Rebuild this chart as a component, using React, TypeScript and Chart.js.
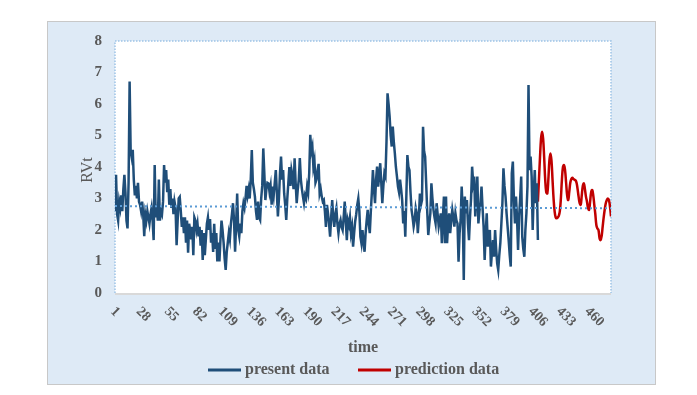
import { useEffect, useRef } from 'react';
import { Chart, registerables } from 'chart.js';

Chart.register(...registerables);

const FONT = '"Liberation Serif", "Times New Roman", serif';

// present data, time index 1..406
const presentData = [
  2.6, 3.75, 2.5, 2.3, 2.9, 2.7, 3.1, 2.6, 3.3, 3.75,
  3.2, 2.3, 2.05, 3.5, 6.71, 4.5, 4.3, 4.55, 3.6, 3.1,
  3.4, 3.0, 3.5, 2.9, 2.8, 2.6, 2.9, 2.5, 1.8, 2.5,
  2.3, 2.6, 2.4, 2.2, 2.5, 2.7, 2.3, 1.68, 4.06, 2.4,
  2.8, 2.3, 3.6, 2.3, 2.6, 2.5, 2.9, 4.06, 3.5, 3.9,
  3.2, 3.6, 2.8, 3.3, 2.7, 3.0, 2.5, 2.9, 2.7, 1.52,
  2.3, 3.0, 3.05, 2.6, 2.1, 2.4, 1.9, 2.4, 1.6, 2.3,
  1.28, 2.2, 2.0, 1.7, 2.1, 1.2, 2.4,
  2.3, 2.0, 2.2, 1.8, 2.1, 1.5, 2.0, 1.05, 1.9, 1.2,
  1.7, 2.2, 2.4, 2.0, 2.35, 1.6, 1.9, 1.3, 2.2, 1.4,
  1.9, 1.0, 1.6, 1.0, 1.7, 2.3, 2.0, 1.6, 1.1, 0.73,
  1.3, 1.6, 1.9, 1.7, 2.2, 2.5, 2.85, 2.3, 1.31, 2.2,
  3.16, 2.0, 1.8, 2.2, 1.9, 2.6, 2.85, 2.7, 3.0, 3.4,
  3.1, 3.3, 3.0, 3.6, 4.54, 3.5, 3.3, 3.06, 2.6, 2.32,
  2.9, 2.4, 2.32, 3.0, 3.4, 4.59, 3.8, 2.95, 3.3, 3.5,
  3.48, 3.2, 3.4, 2.8, 3.38, 3.1, 3.5, 3.9, 3.2, 2.43,
  3.0, 3.8, 4.33, 3.6, 3.9, 3.16, 2.8, 2.32, 3.0, 3.5,
  4.0, 3.4, 3.9, 3.7, 3.3, 4.28, 3.5, 2.85, 3.27, 3.6,
  4.28, 3.6, 3.3, 3.06, 2.85, 3.1, 3.0, 3.38, 3.2, 3.8,
  5.02, 4.5, 4.65, 4.0, 4.2, 3.5, 3.6, 3.9, 4.1, 3.16,
  3.3, 3.06, 2.9, 2.95, 2.6, 2.1, 2.8, 2.53, 2.2, 1.79,
  2.4, 2.95, 2.4, 2.1, 2.5, 2.69, 2.2, 1.9, 2.2, 2.32,
  2.1, 2.0, 2.4, 2.9, 2.3, 1.68, 2.3, 2.16, 2.4, 1.9,
  2.1, 1.47, 1.9, 2.27, 2.5, 2.8, 3.0, 2.6, 1.79, 1.58,
  2.0, 1.6, 1.31, 1.9, 2.3, 2.64, 2.2, 1.9, 2.6, 3.2,
  3.9, 3.3, 2.85, 3.6, 4.01, 3.38, 3.7, 4.12, 3.5, 2.85,
  3.4, 3.8, 3.7, 4.8, 6.34, 6.0, 5.6, 5.0, 4.65, 5.28,
  4.8, 4.43, 4.0, 3.7, 3.38, 3.2, 3.6, 3.3, 2.95, 2.21,
  2.6, 1.79, 3.06, 4.38, 4.0, 3.9, 3.2, 2.64, 2.4, 2.11,
  2.3, 2.7, 2.53, 1.9, 2.4, 3.16, 2.8, 2.95, 5.28, 4.5,
  4.33, 3.48, 2.6, 1.84, 2.2, 2.53, 3.48, 3.0, 2.64, 2.4,
  2.21, 2.85, 2.5, 2.11, 2.3, 2.53, 1.58, 2.4, 3.06, 1.58,
  3.06, 1.58, 2.2, 2.53, 1.9, 2.3, 2.64, 2.4, 2.11, 2.53,
  2.3, 2.21, 0.99, 1.9, 2.32, 3.38, 2.6, 0.41, 3.06, 2.53,
  2.95, 2.2, 1.68, 2.43, 3.0, 4.01, 3.5, 3.7, 2.43, 3.1,
  3.7, 2.21, 2.6, 2.85, 3.38, 2.7, 2.11, 1.05, 1.9, 2.53,
  1.47, 1.8, 2.0, 0.84, 1.3, 1.68, 1.15, 2.0, 1.4, 0.94,
  0.73, 1.2, 1.58, 2.2, 2.85, 3.96, 3.4, 3.06, 2.53, 2.1,
  1.68, 1.2, 0.84, 3.8, 4.17, 3.0, 2.21, 3.06, 2.4, 1.37,
  2.43, 3.0, 3.7, 1.79, 1.4, 1.15, 2.0, 2.53, 3.38, 6.6,
  3.9, 4.33, 3.7, 2.0, 3.2, 3.9, 2.85, 3.48, 1.68,
];

// prediction data, time index 406..476
const predictionStart = 406;
const predictionData = [
  2.9, 3.6, 4.3, 4.9, 5.12, 4.9, 4.3, 3.6, 3.2, 3.16,
  3.6, 4.2, 4.43, 4.2, 3.6, 3.0, 2.6, 2.4, 2.37, 2.4,
  2.45, 2.6, 3.0, 3.6, 4.0, 4.06, 3.9, 3.5, 3.1, 2.95,
  3.2, 3.5, 3.62, 3.66, 3.62, 3.6, 3.58, 3.5, 3.3, 3.05,
  2.85, 2.8, 3.1, 3.4, 3.48, 3.3, 3.06, 2.9, 2.7, 2.64,
  2.9, 3.2, 3.27, 3.1, 2.8, 2.5, 2.15, 2.05, 2.0, 1.75,
  1.68, 1.8, 2.1, 2.4, 2.65, 2.85, 2.95, 3.0, 2.95, 2.75,
  2.43,
];

// linear trend line (start / end)
const trendX = [1, 476];
const trendY = [2.76, 2.69];

const xTickLabels = [1, 28, 55, 82, 109, 136, 163, 190, 217, 244, 271, 298, 325, 352, 379, 406, 433, 460];
const yMin = 0;
const yMax = 8;

const seriesNames = ['present data', 'prediction data'];
const seriesColors = ['#1F4E79', '#C00000'];

export default function App() {
  const ref = useRef<HTMLCanvasElement>(null);

  useEffect(() => {
    document.body.style.margin = '0';
    const canvas = ref.current;
    if (!canvas) return;

    const present = presentData.map((y, i) => ({ x: i + 1, y }));
    const pred = predictionData.map((y, i) => ({ x: predictionStart + i, y }));
    const trend = trendX.map((x, i) => ({ x, y: trendY[i] }));

    const deco = {
      id: 'deco',
      beforeDraw(chart: any) {
        const { ctx, chartArea: a } = chart;
        ctx.save();
        ctx.fillStyle = '#ffffff';
        ctx.fillRect(0, 0, chart.width, chart.height);
        ctx.fillStyle = '#DEEAF6';
        ctx.fillRect(48, 22, 607, 362);
        ctx.strokeStyle = '#C8C8C8';
        ctx.lineWidth = 1;
        ctx.strokeRect(47.5, 21.5, 608, 363);
        ctx.fillStyle = '#ffffff';
        ctx.fillRect(a.left, a.top, a.right - a.left, a.bottom - a.top);
        // dotted plot border
        ctx.strokeStyle = '#9DC3E6';
        ctx.lineWidth = 1.5;
        ctx.setLineDash([1.5, 1.5]);
        ctx.beginPath();
        ctx.moveTo(a.left, a.bottom);
        ctx.lineTo(a.left, a.top);
        ctx.lineTo(a.right, a.top);
        ctx.lineTo(a.right, a.bottom);
        ctx.stroke();
        ctx.setLineDash([]);
        // x axis line
        ctx.strokeStyle = '#D9D9D9';
        ctx.lineWidth = 2;
        ctx.beginPath();
        ctx.moveTo(a.left, a.bottom + 1);
        ctx.lineTo(a.right, a.bottom + 1);
        ctx.stroke();
        ctx.restore();
      },
      afterDraw(chart: any) {
        const { ctx, chartArea: a } = chart;
        const xs = chart.scales.x;
        ctx.save();
        ctx.fillStyle = '#595959';
        // rotated x tick labels
        ctx.font = `bold 14px ${FONT}`;
        xTickLabels.forEach((v) => {
          const px = xs.getPixelForValue(v);
          const w = ctx.measureText(String(v)).width;
          const ext = (w + 10) * 0.7071;
          ctx.save();
          ctx.translate(px, a.bottom + 13 + ext / 2);
          ctx.rotate(Math.PI / 4);
          ctx.textAlign = 'center';
          ctx.textBaseline = 'middle';
          ctx.fillText(String(v), 0, 0);
          ctx.restore();
        });
        // x title
        ctx.font = `bold 16px ${FONT}`;
        ctx.textAlign = 'center';
        ctx.textBaseline = 'middle';
        ctx.fillText('time', (a.left + a.right) / 2, 348);
        // y title
        ctx.save();
        ctx.translate(88, 170);
        ctx.rotate(-Math.PI / 2);
        ctx.font = `16px ${FONT}`;
        ctx.fillText('RVt', 0, 0);
        ctx.restore();
        // legend
        ctx.font = `bold 16px ${FONT}`;
        ctx.textAlign = 'left';
        const starts = [208, 358];
        seriesNames.forEach((name, i) => {
          const x0 = starts[i];
          ctx.strokeStyle = seriesColors[i];
          ctx.lineWidth = 3;
          ctx.beginPath();
          ctx.moveTo(x0, 370);
          ctx.lineTo(x0 + 33, 370);
          ctx.stroke();
          ctx.fillStyle = '#595959';
          ctx.fillText(name, x0 + 37, 370);
        });
        ctx.restore();
      },
    };

    const chart = new Chart(canvas, {
      type: 'line',
      data: {
        datasets: [
          {
            label: 'trend',
            data: trend,
            borderColor: '#5B9BD5',
            borderWidth: 2,
            borderDash: [2, 3],
            pointRadius: 0,
            order: 0,
          },
          {
            label: seriesNames[0],
            data: present,
            borderColor: seriesColors[0],
            borderWidth: 2.5,
            pointRadius: 0,
            tension: 0,
            order: 1,
          },
          {
            label: seriesNames[1],
            data: pred,
            borderColor: seriesColors[1],
            borderWidth: 2.5,
            pointRadius: 0,
            tension: 0.4,
            order: 2,
          },
        ],
      },
      options: {
        animation: false,
        responsive: false,
        layout: { padding: { left: 48, top: 41, right: 86, bottom: 0 } },
        plugins: { legend: { display: false }, tooltip: { enabled: false } },
        scales: {
          x: {
            type: 'linear',
            min: 1,
            max: 476,
            grid: { display: false },
            border: { display: false },
            ticks: { display: false },
            afterBuildTicks(s: any) {
              s.ticks = xTickLabels.map((v) => ({ value: v }));
            },
            afterFit(s: any) {
              s.height = 102;
            },
          },
          y: {
            min: yMin,
            max: yMax,
            ticks: {
              stepSize: 1,
              color: '#595959',
              padding: 13,
              font: { family: FONT, size: 15, weight: 'bold' },
            },
            grid: { display: false, drawTicks: false },
            border: { display: false },
            afterFit(s: any) {
              s.width = 67;
            },
          },
        },
      },
      plugins: [deco],
    } as any);

    return () => chart.destroy();
  }, []);

  return <canvas ref={ref} width={697} height={395} style={{ display: 'block' }} />;
}
